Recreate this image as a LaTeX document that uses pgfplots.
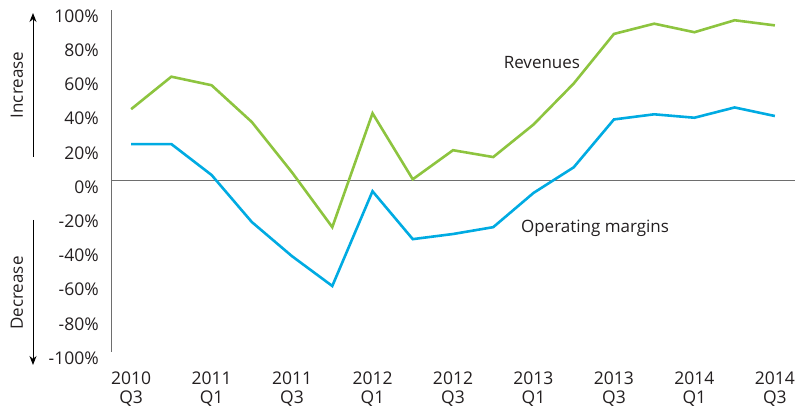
\documentclass[border=0pt]{standalone}
\usepackage{pgfplots}
\pgfplotsset{compat=1.18}
\usetikzlibrary{arrows.meta}
\usepackage{fontspec}
\setmainfont{Open Sans}
\definecolor{revgreen}{RGB}{141,196,63}
\definecolor{opblue}{RGB}{0,171,226}
\definecolor{txt}{RGB}{35,31,32}
\definecolor{axisgray}{RGB}{110,110,110}
\begin{document}
\begin{tikzpicture}
\path[use as bounding box] (0pt,0pt) rectangle (809pt,409pt);
\begin{axis}[
  at={(111pt,57pt)}, anchor=south west,
  scale only axis, width=684pt, height=342pt,
  xmin=-0.5, xmax=16.5, ymin=-100, ymax=100,
  separate axis lines,
  axis x line*=bottom, x axis line style={draw=none},
  axis y line*=left, y axis line style={draw=axisgray, line width=1pt},
  major tick length=0pt,
  xtick={0,2,...,16},
  xticklabels={{2010\\Q3},{2011\\Q1},{2011\\Q3},{2012\\Q1},{2012\\Q3},{2013\\Q1},{2013\\Q3},{2014\\Q1},{2014\\Q3}},
  ytick={-100,-80,...,100},
  yticklabel={\pgfmathprintnumber{\tick}\%},
  /pgf/number format/assume math mode=true,
  tick label style={font=\fontsize{17.5}{19}\selectfont, text=txt},
  xticklabel style={align=center, anchor=north, inner sep=0pt, yshift=-19.5pt},
  yticklabel style={anchor=east, inner sep=0pt, xshift=-12pt, yshift=-6pt},
  clip=false,
]
\addplot[axisgray, line width=1pt] coordinates {(-0.5,0) (16.5,0)};
\addplot[revgreen, line width=2.6pt, line join=miter] coordinates {
(0,42) (1,61) (2,56) (3,34.5) (4,5) (5,-27) (6,39.6) (7,1) (8,18) (9,14)
(10,33) (11,57) (12,86) (13,92) (14,87) (15,94) (16,91)};
\addplot[opblue, line width=2.6pt, line join=miter] coordinates {
(0,21.6) (1,21.6) (2,3.5) (3,-24) (4,-44) (5,-61.4) (6,-6) (7,-34) (8,-31) (9,-27)
(10,-7) (11,8) (12,36) (13,39) (14,37) (15,43) (16,38)};
\node[font=\fontsize{17}{24}\selectfont, text=txt] at (axis cs:10.21,69) {Revenues};
\node[font=\fontsize{17}{24}\selectfont, text=txt] at (axis cs:11.53,-27.5) {Operating margins};
\end{axis}
\draw[-{Stealth[length=9pt,width=7pt]}, line width=1pt, black] (33pt,252pt) -- (33pt,396pt);
\draw[-{Stealth[length=9pt,width=7pt]}, line width=1pt, black] (33pt,189pt) -- (33pt,44pt);
\node[rotate=90, font=\fontsize{17}{24}\selectfont, text=txt] at (17pt,324pt) {Increase};
\node[rotate=90, font=\fontsize{17}{24}\selectfont, text=txt] at (17pt,116pt) {Decrease};
\end{tikzpicture}
\end{document}
